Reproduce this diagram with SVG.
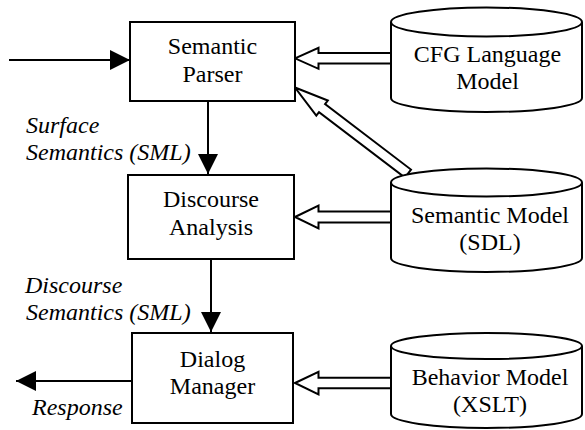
<svg xmlns="http://www.w3.org/2000/svg" width="585" height="430" viewBox="0 0 585 430">
<defs>
<style>
.box{fill:#fff;stroke:#000;stroke-width:2}
.cyl{fill:#fff;stroke:#000;stroke-width:2}
text{font-family:"Liberation Serif","Times New Roman",serif}
.t{font-size:24px;fill:#000;text-anchor:middle}
.lbl{font-size:24px;font-style:italic;fill:#000}
.ln{stroke:#000;stroke-width:2;fill:none}
.hollow{fill:#fff;stroke:#000;stroke-width:2;stroke-linejoin:miter}
</style>
<marker id="ah" viewBox="0 0 20 20" refX="20" refY="10" markerWidth="20" markerHeight="20" markerUnits="userSpaceOnUse" orient="auto">
<path d="M0,0 L20,10 L0,20 Z" fill="#000"/>
</marker>
</defs>
<rect width="585" height="430" fill="#fff"/>

<g id="connectors">
<line class="ln" x1="9" y1="60" x2="130" y2="60" marker-end="url(#ah)"/>
<line class="ln" x1="208" y1="101" x2="208" y2="174" marker-end="url(#ah)"/>
<line class="ln" x1="211" y1="259" x2="211" y2="332" marker-end="url(#ah)"/>
<line class="ln" x1="132" y1="381" x2="16" y2="381" marker-end="url(#ah)"/>
<polygon class="hollow" points="295,58.3 318.5,47.8 318.5,53 391,53 391,63.6 318.5,63.6 318.5,68.8"/>
<polygon class="hollow" points="295,217 318.5,205.5 318.5,211.6 391,211.6 391,222.6 318.5,222.6 318.5,228.5"/>
<polygon class="hollow" points="295,383 318.5,371.8 318.5,377.7 391,377.7 391,388.3 318.5,388.3 318.5,394.3"/>
<polygon class="hollow" transform="translate(295,87.5) rotate(37.3)" points="0,0 34,-9.5 34,-5 142,-5 142,5 34,5 34,9.5"/>
</g>

<g id="semantic-parser">
<rect class="box" x="130" y="22" width="165" height="79"/>
<text class="t" x="212.5" y="54">Semantic</text>
<text class="t" x="212.5" y="82">Parser</text>
</g>

<g id="discourse-analysis">
<rect class="box" x="128" y="175" width="166" height="84"/>
<text class="t" x="211" y="207">Discourse</text>
<text class="t" x="211" y="235">Analysis</text>
</g>

<g id="dialog-manager">
<rect class="box" x="132" y="333" width="161" height="90"/>
<text class="t" x="212.5" y="366.5">Dialog</text>
<text class="t" x="212.5" y="393.5">Manager</text>
</g>

<g id="cfg-language-model">
<path class="cyl" d="M391,22 V98 A95.5,14 0 0 0 582,98 V22"/>
<ellipse class="cyl" cx="486.5" cy="22" rx="95.5" ry="14.5"/>
<text class="t" x="487.5" y="61.5">CFG Language</text>
<text class="t" x="487.5" y="88.5">Model</text>
</g>

<g id="semantic-model">
<path class="cyl" d="M391,182.5 V258 A95.5,14 0 0 0 582,258 V182.5"/>
<ellipse class="cyl" cx="486.5" cy="182.5" rx="95.5" ry="14"/>
<text class="t" x="490" y="223.3">Semantic Model</text>
<text class="t" x="490" y="250">(SDL)</text>
</g>

<g id="behavior-model">
<path class="cyl" d="M391,346 V414 A95.5,14 0 0 0 582,414 V346"/>
<ellipse class="cyl" cx="486.5" cy="346" rx="95.5" ry="13"/>
<text class="t" x="490" y="385">Behavior Model</text>
<text class="t" x="490" y="411.7">(XSLT)</text>
</g>

<g id="labels">
<text class="lbl" x="26" y="133.3">Surface</text>
<text class="lbl" x="26" y="160">Semantics (SML)</text>
<text class="lbl" x="25" y="292.7">Discourse</text>
<text class="lbl" x="26" y="320">Semantics (SML)</text>
<text class="lbl" x="32" y="415">Response</text>
</g>
</svg>
